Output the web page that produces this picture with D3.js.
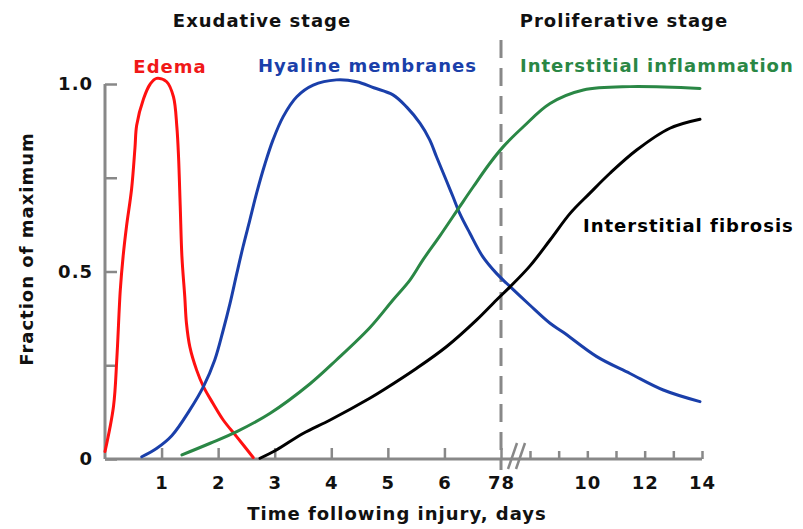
<!DOCTYPE html>
<html>
<head>
<meta charset="utf-8">
<script src="https://cdn.jsdelivr.net/npm/d3@7"></script>
<style>
  html, body { margin: 0; padding: 0; background: #fff; }
  svg { display: block; }
  text { font-family: "DejaVu Sans", Verdana, sans-serif; font-weight: bold; letter-spacing: 1px; }
</style>
</head>
<body>
<svg id="chart" width="803" height="529"></svg>
<script>
// ---- Data (days, fraction of maximum) ----
const edemaDays = [0, 0.15, 0.21, 0.27, 0.32, 0.38, 0.47, 0.53, 0.56, 0.68, 0.80, 0.91, 1.09, 1.21, 1.27, 1.30, 1.33, 1.36, 1.41, 1.44, 1.50, 1.62, 1.74, 1.91, 2.09, 2.33, 2.62];
const edemaVals = [0.02, 0.14, 0.27, 0.45, 0.54, 0.62, 0.72, 0.83, 0.89, 0.96, 1.00, 1.015, 1.006, 0.966, 0.886, 0.806, 0.673, 0.539, 0.433, 0.362, 0.299, 0.237, 0.193, 0.148, 0.104, 0.059, 0.004];

const hyalineDays = [0.65, 0.91, 1.18, 1.50, 1.74, 1.94, 2.09, 2.21, 2.33, 2.44, 2.56, 2.68, 2.83, 2.97, 3.15, 3.39, 3.68, 4.09, 4.45, 4.75, 5.09, 5.33, 5.57, 5.74, 5.86, 6.03, 6.15, 6.27, 6.45, 6.68, 6.92, 7.2, 8.0, 8.7, 9.16, 10.33, 11.49, 12.65, 13.93];
const hyalineVals = [0.006, 0.028, 0.062, 0.131, 0.193, 0.264, 0.344, 0.415, 0.495, 0.566, 0.637, 0.709, 0.788, 0.851, 0.913, 0.966, 0.997, 1.011, 1.006, 0.99, 0.971, 0.939, 0.895, 0.851, 0.806, 0.744, 0.70, 0.655, 0.602, 0.539, 0.495, 0.468, 0.41, 0.362, 0.338, 0.273, 0.228, 0.184, 0.153];

const inflammationDays = [1.36, 1.86, 2.33, 2.92, 3.62, 4.09, 4.68, 5.09, 5.39, 5.62, 5.92, 6.27, 6.51, 6.80, 7.08, 7.77, 8.7, 9.86, 11.49, 13.93];
const inflammationVals = [0.011, 0.042, 0.073, 0.122, 0.20, 0.264, 0.35, 0.424, 0.477, 0.531, 0.595, 0.673, 0.726, 0.788, 0.833, 0.886, 0.948, 0.984, 0.993, 0.988];

const fibrosisDays = [2.74, 3.03, 3.50, 3.98, 4.68, 4.92, 5.51, 6.04, 6.57, 6.92, 7.31, 8.0, 8.7, 9.40, 10.09, 10.79, 11.72, 12.88, 13.93];
const fibrosisVals = [0.002, 0.024, 0.068, 0.104, 0.162, 0.184, 0.242, 0.30, 0.371, 0.424, 0.459, 0.515, 0.584, 0.655, 0.709, 0.762, 0.824, 0.882, 0.906];

const seriesNames = ["Edema", "Hyaline membranes", "Interstitial inflammation", "Interstitial fibrosis"];
const stageNames = ["Exudative stage", "Proliferative stage"];
const stageBoundary = 7;

const xTicksLeft = [1, 2, 3, 4, 5, 6, 7];
const xTickLabelsLeft = ["1", "2", "3", "4", "5", "6", "78"];
const xTicksRight = [8, 9, 10, 11, 12, 13, 14];
const xTickLabelsRight = ["", "", "10", "", "12", "", "14"];
const yTicks = [0, 0.25, 0.5, 0.75, 1.0];
const yTickLabels = ["0", "", "0.5", "", "1.0"];
const xTitle = "Time following injury, days";
const yTitle = "Fraction of maximum";

// ---- Layout ----
const svg = d3.select("#chart");
const axisColor = "#888888";
const colors = ["#ff1010", "#1a3faa", "#2a8745", "#000000"];
const textColors = ["#f01818", "#1a3faa", "#2a8745", "#000000"];
const fs = 18;

const x = d3.scaleLinear().domain([0, 7, 8, 14]).range([105, 501, 530, 702]);
const y = d3.scaleLinear().domain([0, 1]).range([459, 84]);

// ---- Axes ----
const gx = svg.append("g").attr("transform", `translate(0,${y(0)})`);
gx.append("line").attr("x1", x(0)).attr("x2", x(14)).attr("y1", 0).attr("y2", 0)
  .attr("stroke", axisColor).attr("stroke-width", 3);

const axL = d3.axisBottom(x).tickValues(xTicksLeft).tickSize(-11).tickPadding(17)
  .tickFormat((d, i) => xTickLabelsLeft[i]);
const gl = gx.append("g").call(axL);
const axR = d3.axisBottom(x).tickValues(xTicksRight).tickSize(-8).tickPadding(17)
  .tickFormat((d, i) => xTickLabelsRight[i]);
const gr = gx.append("g").call(axR);
[gl, gr].forEach(g => {
  g.select(".domain").remove();
  g.selectAll(".tick line").attr("stroke", axisColor).attr("stroke-width", 2.5);
  g.selectAll(".tick text").attr("fill", "#111").attr("font-size", fs)
    .attr("font-family", "DejaVu Sans, sans-serif").attr("font-weight", "bold");
});

const gy = svg.append("g").attr("transform", `translate(${x(0)},0)`);
gy.append("line").attr("x1", 0).attr("x2", 0).attr("y1", y(1)).attr("y2", y(0))
  .attr("stroke", axisColor).attr("stroke-width", 3);
const axY = d3.axisLeft(y).tickValues(yTicks).tickSize(-12).tickPadding(12)
  .tickFormat((d, i) => yTickLabels[i]);
const gyy = gy.append("g").call(axY);
gyy.select(".domain").remove();
gyy.selectAll(".tick line").attr("stroke", axisColor).attr("stroke-width", 2.5);
gyy.selectAll(".tick text").attr("fill", "#111").attr("font-size", fs)
  .attr("font-family", "DejaVu Sans, sans-serif").attr("font-weight", "bold");

// axis break marks
const bx = x(stageBoundary);
[7, 15].forEach(off => {
  svg.append("line")
    .attr("x1", bx + off).attr("y1", y(0) + 10)
    .attr("x2", bx + off + 9).attr("y2", y(0) - 16)
    .attr("stroke", axisColor).attr("stroke-width", 2.5);
});

// stage boundary dashed line
svg.append("line")
  .attr("x1", bx).attr("x2", bx).attr("y1", 40).attr("y2", y(0) + 11)
  .attr("stroke", axisColor).attr("stroke-width", 3)
  .attr("stroke-dasharray", "18,10");

// ---- Curves ----
const series = [
  [edemaDays, edemaVals],
  [hyalineDays, hyalineVals],
  [inflammationDays, inflammationVals],
  [fibrosisDays, fibrosisVals]
];
const line = d3.line().x(d => x(d[0])).y(d => y(d[1])).curve(d3.curveCatmullRom.alpha(0.5));
series.forEach(([xs, ys], i) => {
  const pts = xs.map((d, j) => [d, ys[j]]);
  svg.append("path").datum(pts).attr("d", line)
    .attr("fill", "none").attr("stroke", colors[i]).attr("stroke-width", 3)
    .attr("stroke-linejoin", "round").attr("stroke-linecap", "round");
});

// ---- Text ----
svg.append("text").attr("x", 262).attr("y", 27).attr("text-anchor", "middle")
  .attr("font-size", fs).attr("fill", "#111").text(stageNames[0]);
svg.append("text").attr("x", 624).attr("y", 27).attr("text-anchor", "middle")
  .attr("font-size", fs).attr("fill", "#111").text(stageNames[1]);

svg.append("text").attr("x", 170).attr("y", 73).attr("text-anchor", "middle")
  .attr("font-size", fs).attr("fill", textColors[0]).text(seriesNames[0]);
svg.append("text").attr("x", 258).attr("y", 72)
  .attr("font-size", fs).attr("fill", textColors[1]).text(seriesNames[1]);
svg.append("text").attr("x", 520).attr("y", 72)
  .attr("font-size", fs).attr("fill", textColors[2]).text(seriesNames[2]);
svg.append("text").attr("x", 583).attr("y", 232)
  .attr("font-size", fs).attr("fill", textColors[3]).text(seriesNames[3]);

svg.append("text").attr("x", 397).attr("y", 520).attr("text-anchor", "middle")
  .attr("font-size", fs).attr("fill", "#111").text(xTitle);
svg.append("text").attr("transform", "translate(33,249) rotate(-90)")
  .attr("text-anchor", "middle").attr("font-size", fs).attr("fill", "#111").text(yTitle);
</script>
</body>
</html>
